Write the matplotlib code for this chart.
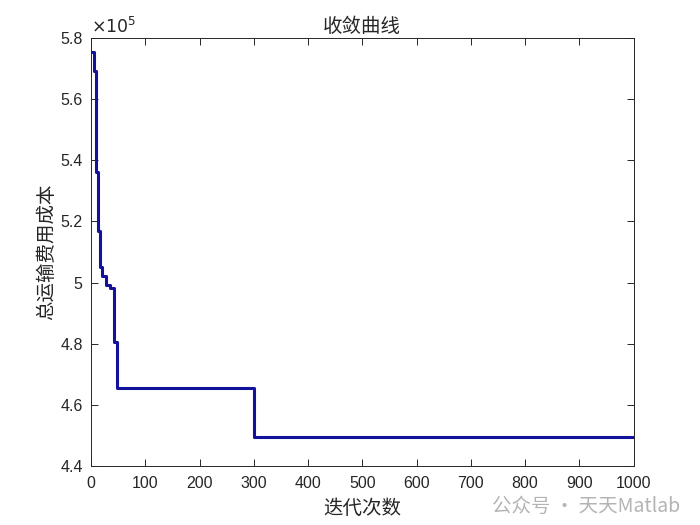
import matplotlib
matplotlib.use("Agg")
import matplotlib.pyplot as plt
from matplotlib.ticker import FuncFormatter

plt.rcParams['font.family'] = ['Noto Sans CJK SC', 'DejaVu Sans']

# 收敛曲线数据（每次最优值改变的迭代点）
iters = [1, 5, 9, 12, 16, 20, 28, 35, 43, 48, 301, 1000]
costs = [575500, 569000, 536000, 517000, 505000, 502200, 499300, 498200,
         480500, 465700, 449500, 449500]

fig = plt.figure(figsize=(7, 5.25), dpi=100)
ax = fig.add_axes([0.13, 0.112, 0.775, 0.816])
ax.step(iters, costs, where='post', color='#12129c', linewidth=2.2)

ax.set_xlim(0, 1000)
ax.set_ylim(440000, 580000)
ax.set_xticks(range(0, 1001, 100))
ax.set_yticks([440000 + 20000 * i for i in range(8)])
ax.yaxis.set_major_formatter(FuncFormatter(lambda v, p: f'{v / 1e5:g}'))
ax.tick_params(direction='in', top=True, right=True, labelsize=11.5,
               colors='#262626', length=5, width=0.7)
ax.tick_params(axis='x', pad=7)
ax.tick_params(axis='y', pad=6)
for s in ax.spines.values():
    s.set_color('#262626')
    s.set_linewidth(0.7)
for lab in ax.get_xticklabels() + ax.get_yticklabels():
    lab.set_family('Liberation Sans')

ax.text(0.0, 1.004, r'$\times10^5$', transform=ax.transAxes, fontsize=12.5,
        color='#262626', ha='left', va='bottom', family='Liberation Sans')
ax.set_title('收敛曲线', fontsize=14, color='#262626', pad=4)
ax.set_xlabel('迭代次数', fontsize=14, color='#262626', labelpad=5)
ax.set_ylabel('总运输费用成本', fontsize=14, color='#262626', labelpad=2)

# 水印
fig.text(0.972, 0.036, '公众号 · 天天Matlab', fontsize=14, color='#b4b4b4',
         ha='right', va='center')

fig.savefig('out.png', dpi=100)
